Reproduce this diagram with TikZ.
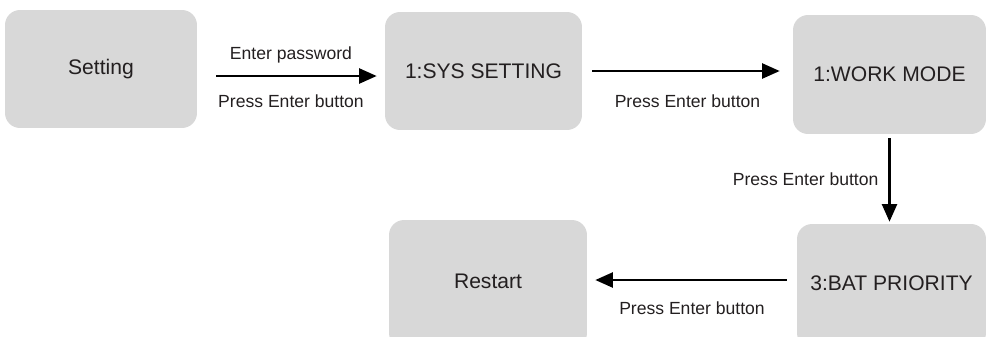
\documentclass[tikz,border=0pt]{standalone}
\usepackage{fontspec}
\setmainfont{Liberation Sans}
\usetikzlibrary{arrows.meta}

\definecolor{menugray}{RGB}{216,216,216}
\definecolor{menutext}{RGB}{35,31,32}

\begin{document}
\begin{tikzpicture}[
  x=0.02cm,
  y=-0.02cm,
  menu/.style={
    rectangle,
    rounded corners=0.3cm,
    fill=menugray,
    text=menutext,
    font=\fontsize{12}{14}\selectfont,
    inner sep=0pt
  },
  flow/.style={
    -{Triangle[length=0.35cm,width=0.3cm]},
    line width=1.25pt,
    draw=black
  },
  hint/.style={
    font=\fontsize{10}{12}\selectfont,
    text=menutext,
    inner sep=0pt
  }
]
\useasboundingbox (0,0) rectangle (987,336);
\clip (0,0) rectangle (987,336);

\node[menu, minimum width=3.84cm, minimum height=2.36cm] (set) at (101,69) {Setting};
\node[menu, minimum width=3.94cm, minimum height=2.36cm] (sys) at (483.5,71) {1:SYS SETTING};
\node[menu, minimum width=3.86cm, minimum height=2.38cm] (work) at (889.5,74.5) {\raisebox{-0.06cm}{1:WORK MODE}};
\node[menu, minimum width=3.78cm, minimum height=2.48cm] (bat) at (891.5,286) {\raisebox{0.12cm}{3:BAT PRIORITY}};
\node[menu, minimum width=3.96cm, minimum height=2.56cm] (restart) at (488,284) {\raisebox{0.12cm}{Restart}};

\draw[flow, shorten <=0.38cm, shorten >=0.16cm]
  ([yshift=-0.14cm]set.east) -- ([yshift=-0.14cm]set.east -| sys.west)
  node[hint, midway, yshift=0.42cm] {Enter password}
  node[hint, midway, yshift=-0.5cm] {Press Enter button};

\draw[flow, shorten <=0.2cm, shorten >=0.26cm]
  (sys.east) -- (sys.east -| work.west)
  node[hint, midway, yshift=-0.6cm] {Press Enter button};

\draw[flow, shorten <=0.08cm, shorten >=0.04cm]
  (work.south) -- (work.south |- bat.north)
  node[hint, midway, left=0.2cm] {Press Enter button};

\draw[flow, shorten <=0.2cm, shorten >=0.16cm]
  ([yshift=0.12cm]bat.west) -- ([yshift=0.12cm]bat.west -| restart.east)
  node[hint, midway, yshift=-0.56cm] {Press Enter button};
\end{tikzpicture}
\end{document}
